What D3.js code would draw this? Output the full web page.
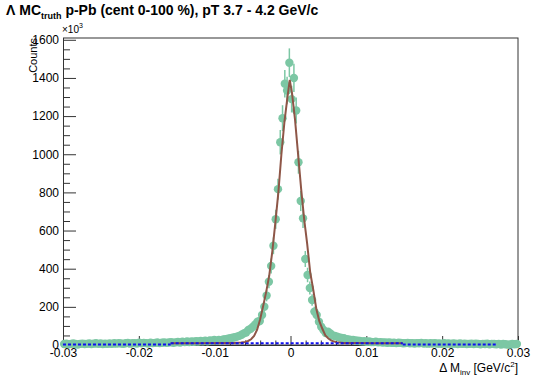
<!DOCTYPE html>
<html>
<head>
<meta charset="utf-8">
<script src="https://cdn.jsdelivr.net/npm/d3@7"></script>
<style>
  html, body { margin: 0; padding: 0; background: #fff; }
  svg { display: block; font-family: "Liberation Sans", Arial, Helvetica, sans-serif; }
</style>
</head>
<body>
<svg id="chart" width="535" height="380"></svg>
<script>
// Histogram binning of the invariant-mass difference (GeV/c^2)
const binStart = -0.03;
const binWidth = 0.0003;

// Bin contents, in units of 10^3 counts
const counts = [
  5, 7, 4, 6, 8, 5, 3, 6, 7, 5,
  6, 8, 5, 7, 9, 6, 8, 5, 7, 6,
  8, 6, 9, 7, 10, 8, 6, 9, 11, 7,
  9, 10, 8, 12, 9, 11, 10, 8, 12, 10,
  11, 13, 10, 12, 14, 11, 13, 15, 12, 14,
  16, 13, 17, 15, 18, 16, 19, 17, 20, 18,
  21, 19, 23, 20, 24, 22, 26, 23, 27, 25,
  29, 31, 33, 35, 38, 41, 44, 48, 54, 61,
  66, 79, 85, 96, 108, 122, 126, 157, 201, 259,
  332, 414, 520, 659, 817, 1063, 1189, 1370, 1334, 1480,
  1289, 1400, 1229, 958, 755, 664, 451, 367, 299, 236,
  175, 157, 122, 96, 79, 63, 70, 61, 50, 47,
  44, 40, 37, 35, 31, 29, 27, 26, 24, 22,
  21, 19, 20, 17, 18, 16, 15, 17, 14, 15,
  13, 14, 12, 13, 11, 12, 10, 12, 11, 9,
  10, 11, 9, 10, 8, 10, 9, 11, 8, 9,
  7, 9, 8, 10, 7, 8, 6, 9, 7, 8,
  6, 8, 7, 5, 8, 6, 7, 5, 6, 7,
  5, 7, 6, 4, 6, 5, 7, 4, 6, 5,
  4, 6, 3, 5, 4, 2, 3, 5, 4, 5
];

// Statistical errors of the bin contents, same units
const errors = [
  4, 5, 4, 5, 5, 4, 3, 5, 5, 4,
  5, 5, 4, 5, 6, 5, 5, 4, 5, 5,
  5, 5, 6, 5, 6, 5, 5, 6, 6, 5,
  6, 6, 5, 7, 6, 6, 6, 5, 7, 6,
  6, 7, 6, 7, 7, 6, 7, 7, 7, 7,
  8, 7, 8, 7, 8, 8, 8, 8, 9, 8,
  9, 8, 9, 9, 9, 9, 10, 9, 10, 10,
  10, 11, 11, 12, 12, 13, 13, 14, 15, 16,
  16, 17, 18, 19, 20, 21, 22, 24, 27, 30,
  35, 39, 44, 50, 55, 64, 68, 72, 72, 75,
  70, 74, 68, 60, 53, 50, 42, 38, 34, 30,
  26, 25, 22, 19, 17, 16, 16, 15, 14, 13,
  13, 12, 12, 11, 11, 10, 10, 10, 9, 9,
  9, 8, 8, 8, 8, 8, 7, 8, 7, 7,
  7, 7, 6, 7, 6, 6, 6, 6, 6, 6,
  6, 6, 6, 6, 5, 6, 6, 6, 5, 6,
  5, 6, 5, 6, 5, 5, 5, 6, 5, 5,
  5, 5, 5, 4, 5, 5, 5, 4, 5, 5,
  4, 5, 5, 4, 5, 4, 5, 4, 5, 4,
  4, 5, 3, 4, 4, 3, 3, 4, 4, 4
];

// Signal + background fit curve over the fit range
const fitX = [-0.0158, -0.012, -0.009, -0.0075, -0.0065, -0.006, -0.0056, -0.0052, -0.0048, -0.0044,
              -0.0040, -0.0036, -0.0032, -0.0028, -0.0024, -0.0020, -0.0016, -0.0012, -0.0008, -0.0004,
              -0.0001, 0.0002, 0.0006, 0.0010, 0.0014, 0.0018, 0.0022, 0.0026, 0.0030, 0.0034,
              0.0038, 0.0042, 0.0046, 0.0050, 0.0054, 0.0060, 0.0070, 0.0085, 0.0110, 0.0148];
const fitY = [9, 9, 10, 11, 13, 16, 21, 30, 48, 80,
              135, 205, 280, 365, 490, 640, 800, 1000, 1170, 1300,
              1390, 1320, 1180, 1000, 820, 660, 530, 380, 290, 190,
              125, 85, 50, 34, 23, 15, 11, 10, 9, 9];

// Background components (dotted): inside the fit range and the side bands
const bgFitRange = [-0.0158, 0.0148];
const bgFitLevel = 9;
const bgSideLeft = [-0.03, -0.0158];
const bgSideRight = [0.0148, 0.0272];
const bgSideLevel = 3;

// Axis ticks and labels
const xMajorTicks = [-0.03, -0.02, -0.01, 0, 0.01, 0.02, 0.03];
const xTickLabels = ["-0.03", "-0.02", "-0.01", "0", "0.01", "0.02", "0.03"];
const yMajorTicks = [0, 200, 400, 600, 800, 1000, 1200, 1400, 1600];
const yTickLabels = ["0", "200", "400", "600", "800", "1000", "1200", "1400", "1600"];

const frame = { left: 63, right: 518, top: 37.5, bottom: 345 };

const svg = d3.select("#chart");

const x = d3.scaleLinear().domain([-0.03, 0.03]).range([frame.left, frame.right]);
const y = d3.scaleLinear().domain([0, 1612]).range([frame.bottom, frame.top]);

const markerColor = "#7cc7a4";
const fitColor = "#8e5647";
const bgColor = "#1010ee";

// Frame box
svg.append("rect")
  .attr("x", frame.left + 0.5).attr("y", frame.top + 0.5)
  .attr("width", frame.right - frame.left - 0.5)
  .attr("height", frame.bottom - frame.top - 0.5)
  .attr("fill", "none").attr("stroke", "#333").attr("stroke-width", 1);

// Minor ticks
const xMinor = d3.range(-0.03, 0.03001, 0.002).filter(v => !xMajorTicks.some(m => Math.abs(m - v) < 1e-9));
const yMinor = d3.range(0, 1601, 50).filter(v => v % 200 !== 0);

const xAxisMinor = svg.append("g")
  .attr("transform", `translate(0,${frame.bottom})`)
  .call(d3.axisBottom(x).tickValues(xMinor).tickSize(-4.5).tickSizeOuter(0).tickFormat(""));
const yAxisMinor = svg.append("g")
  .attr("transform", `translate(${frame.left},0)`)
  .call(d3.axisLeft(y).tickValues(yMinor).tickSize(-7).tickSizeOuter(0).tickFormat(""));

const xAxis = svg.append("g")
  .attr("transform", `translate(0,${frame.bottom})`)
  .call(d3.axisBottom(x).tickValues(xMajorTicks).tickSize(-9).tickSizeOuter(0).tickPadding(3)
        .tickFormat((d, i) => xTickLabels[i]));
const yAxis = svg.append("g")
  .attr("transform", `translate(${frame.left},0)`)
  .call(d3.axisLeft(y).tickValues(yMajorTicks).tickSize(-13).tickSizeOuter(0).tickPadding(4)
        .tickFormat((d, i) => yTickLabels[i]));

[xAxis, yAxis, xAxisMinor, yAxisMinor].forEach(g => {
  g.select(".domain").attr("stroke", "#333");
  g.selectAll(".tick line").attr("stroke", "#333");
  g.selectAll("text")
    .attr("fill", "#000")
    .attr("font-size", 12)
    .attr("font-family", "'Liberation Sans', Arial, sans-serif");
});

// Histogram points with vertical error bars
const bins = counts.map((c, i) => ({ x: binStart + binWidth * (i + 0.5), v: c, e: errors[i] }));

const pts = svg.append("g");
pts.selectAll("line.err").data(bins).join("line")
  .attr("class", "err")
  .attr("x1", d => x(d.x)).attr("x2", d => x(d.x))
  .attr("y1", d => y(d.v - d.e)).attr("y2", d => y(d.v + d.e))
  .attr("stroke", markerColor).attr("stroke-width", 1.5);
pts.selectAll("circle").data(bins).join("circle")
  .attr("cx", d => x(d.x)).attr("cy", d => y(d.v))
  .attr("r", 4.2)
  .attr("fill", markerColor);

// Fit curve
const line = d3.line().x(d => x(d[0])).y(d => y(d[1]));
svg.append("path")
  .datum(fitX.map((v, i) => [v, fitY[i]]))
  .attr("d", line)
  .attr("fill", "none").attr("stroke", fitColor).attr("stroke-width", 2);

// Background lines
const bgSegments = [
  [[bgSideLeft[0], bgSideLevel], [bgSideLeft[1], bgSideLevel]],
  [[bgFitRange[0], bgFitLevel], [bgFitRange[1], bgFitLevel]],
  [[bgSideRight[0], bgSideLevel], [bgSideRight[1], bgSideLevel]]
];
svg.append("g").selectAll("path").data(bgSegments).join("path")
  .attr("d", line)
  .attr("fill", "none").attr("stroke", bgColor).attr("stroke-width", 2)
  .attr("stroke-dasharray", "3,2");

// Title
const title = svg.append("text")
  .attr("x", 6).attr("y", 15)
  .attr("font-size", 14).attr("font-weight", "bold").attr("fill", "#000");
title.append("tspan").text("Λ MC");
title.append("tspan").attr("font-size", 9).attr("dy", 4).text("truth");
title.append("tspan").attr("dy", -4).text(" p-Pb (cent 0-100 %), pT 3.7 - 4.2 GeV/c");

// Exponent marker for the y axis
const expo = svg.append("text")
  .attr("x", 62).attr("y", 33).attr("font-size", 10).attr("fill", "#000");
expo.append("tspan").text("×10");
expo.append("tspan").attr("font-size", 7).attr("dy", -5).text("3");

// Y axis title
svg.append("text")
  .attr("transform", "translate(37,38) rotate(-90)")
  .attr("text-anchor", "end")
  .attr("font-size", 11).attr("fill", "#000")
  .text("Counts");

// X axis title
const xt = svg.append("text")
  .attr("x", 518).attr("y", 372)
  .attr("text-anchor", "end")
  .attr("font-size", 12).attr("fill", "#000");
xt.append("tspan").text("Δ M");
xt.append("tspan").attr("font-size", 8).attr("dy", 3).text("inv");
xt.append("tspan").attr("dy", -3).text(" [GeV/c");
xt.append("tspan").attr("font-size", 8).attr("dy", -5).text("2");
xt.append("tspan").attr("dy", 5).text("]");
</script>
</body>
</html>
